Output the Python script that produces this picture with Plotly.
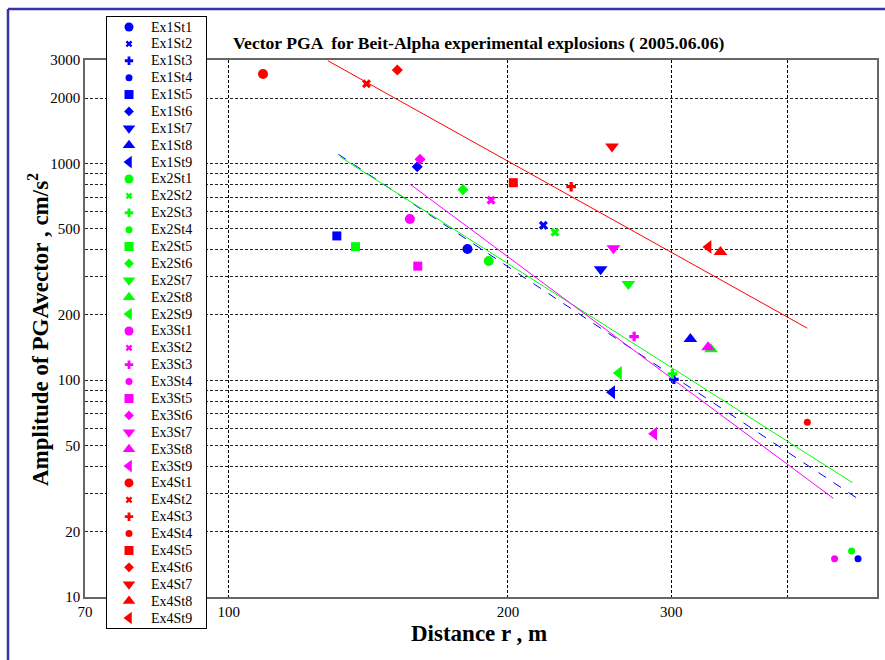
import math
import plotly.graph_objects as go

# ---------------- data ----------------
experiments = ["Ex1", "Ex2", "Ex3", "Ex4"]
stations = ["St1", "St2", "St3", "St4", "St5", "St6", "St7", "St8", "St9"]
exp_colors = ["#0000ff", "#00ff00", "#ff00ff", "#ff0000"]

ex1_dist = [180.9, 218.4, 302.0, 477.0, 130.8, 159.7, 251.8, 314.6, 259.0]
ex1_pga = [403, 518, 101, 15.0, 463, 966, 325, 155, 88]
ex2_dist = [190.7, 224.8, 300.9, 469.4, 137.0, 178.9, 269.7, 331.2, 263.4]
ex2_pga = [355, 481, 107, 16.3, 413, 757, 278, 139, 108]
ex3_dist = [156.8, 191.8, 273.6, 450.0, 159.9, 160.8, 259.9, 328.7, 287.5]
ex3_pga = [554, 676, 159, 15.0, 336, 1045, 406, 142, 56.7]
ex4_dist = [108.9, 140.8, 234.0, 420.6, 202.7, 152.0, 259.0, 339.0, 329.0]
ex4_pga = [2586, 2333, 781, 64, 815, 2697, 1197, 390, 412]

# regression (fit) lines: end points
fit1_dist = [131.3, 477.5]
fit1_pga = [1102, 28.3]
fit2_dist = [131.9, 470.4]
fit2_pga = [1071, 33.7]
fit3_dist = [156.9, 448.7]
fit3_pga = [801.7, 28.5]
fit4_dist = [127.9, 420.6]
fit4_pga = [2978, 173.8]

x_tickvals = [70, 100, 200, 300, 400, 500]
x_ticktext = ["70", "100", "200", "300", "", "500"]
y_tickvals = [10, 20, 30, 40, 50, 60, 70, 80, 90, 100, 200, 300, 400, 500,
              600, 700, 800, 900, 1000, 2000, 3000]
y_ticktext = ["10", "20", "", "", "50", "", "", "", "", "100", "200", "", "",
              "500", "", "", "", "", "1000", "2000", "3000"]

# ---------------- styles ----------------
symbols = ["circle", "x", "cross", "circle", "square", "diamond",
           "triangle-down", "triangle-up", "triangle-left"]
plot_sizes = [10, 8, 8, 7, 9, 8.5, 12, 12, 12]
legend_sizes = [9, 6, 7, 7, 9, 7.5, 11, 11, 11]
fit_dash = ["dash", "solid", "solid", "solid"]

W, H = 885, 660
SERIF = "Liberation Serif"

def px_x(p):
    return p / W

def px_y(p):
    return 1 - p / H

all_dist = [ex1_dist, ex2_dist, ex3_dist, ex4_dist]
all_pga = [ex1_pga, ex2_pga, ex3_pga, ex4_pga]
all_fit_d = [fit1_dist, fit2_dist, fit3_dist, fit4_dist]
all_fit_p = [fit1_pga, fit2_pga, fit3_pga, fit4_pga]

fig = go.Figure()

# fit lines
for e in range(4):
    fig.add_trace(go.Scatter(
        x=all_fit_d[e], y=all_fit_p[e], mode="lines",
        line=dict(color=exp_colors[e], width=1, dash=fit_dash[e]),
        showlegend=False, hoverinfo="skip", xaxis="x", yaxis="y"))

# data points
for e in range(4):
    fig.add_trace(go.Scatter(
        x=all_dist[e], y=all_pga[e], mode="markers",
        marker=dict(color=exp_colors[e], symbol=symbols, size=plot_sizes,
                    opacity=1, line=dict(width=0)),
        text=[experiments[e] + s for s in stations],
        showlegend=False, xaxis="x", yaxis="y"))

# custom legend in its own small subplot (x2/y2)
LEG_TOP_PAD = 10.0
LEG_STEP = 16.886
annotations = []
for e in range(4):
    ys = [LEG_TOP_PAD + (e * 9 + j) * LEG_STEP for j in range(9)]
    fig.add_trace(go.Scatter(
        x=[22] * 9, y=ys, mode="markers",
        marker=dict(color=exp_colors[e], symbol=symbols, size=legend_sizes,
                    opacity=1, line=dict(width=0)),
        showlegend=False, hoverinfo="skip", xaxis="x2", yaxis="y2",
        cliponaxis=False))
    for j in range(9):
        annotations.append(dict(
            x=42, y=ys[j], xref="x2", yref="y2", xanchor="left",
            yanchor="middle", text=experiments[e] + stations[j],
            showarrow=False, font=dict(family=SERIF, size=14, color="black")))

# titles
annotations.append(dict(
    x=px_x(478), y=px_y(43), xref="paper", yref="paper",
    text="<b>Vector PGA  for Beit-Alpha experimental explosions ( 2005.06.06)</b>",
    showarrow=False, xanchor="center", yanchor="middle",
    font=dict(family=SERIF, size=17.6, color="black")))
annotations.append(dict(
    x=px_x(479), y=px_y(633), xref="paper", yref="paper",
    text="<b>Distance r , m</b>", showarrow=False,
    xanchor="center", yanchor="middle",
    font=dict(family=SERIF, size=23, color="black")))
annotations.append(dict(
    x=px_x(38), y=px_y(330), xref="paper", yref="paper",
    text="<b>Amplitude of PGAvector , cm/s<sup>2</sup></b>", showarrow=False,
    textangle=-90, xanchor="center", yanchor="middle",
    font=dict(family=SERIF, size=23, color="black")))

shapes = [
    dict(type="line", xref="paper", yref="paper",
         x0=px_x(8), x1=1.0, y0=px_y(9), y1=px_y(9),
         line=dict(color="#3535a5", width=2.5)),
    dict(type="line", xref="paper", yref="paper",
         x0=px_x(8), x1=px_x(8), y0=px_y(9), y1=0,
         line=dict(color="#3535a5", width=2.5)),
]

frame_col = "#666666"
fig.update_layout(
    width=W, height=H,
    margin=dict(l=0, r=0, t=0, b=0, autoexpand=False),
    paper_bgcolor="white", plot_bgcolor="white",
    showlegend=False,
    xaxis=dict(
        type="log", range=[math.log10(70), math.log10(500)],
        domain=[px_x(85), px_x(877)], anchor="y",
        tickvals=x_tickvals, ticktext=x_ticktext,
        showgrid=True, gridcolor="black", gridwidth=1, griddash="3px,2px",
        showline=True, linecolor=frame_col, linewidth=1.5, mirror=True,
        ticks="", zeroline=False,
        tickfont=dict(family=SERIF, size=15, color="black")),
    yaxis=dict(
        type="log", range=[1, math.log10(3000)],
        domain=[1 - 597 / H, 1 - 60 / H], anchor="x",
        tickvals=y_tickvals, ticktext=y_ticktext,
        showgrid=True, gridcolor="#222222", gridwidth=1, griddash="3px,2px",
        showline=True, linecolor=frame_col, linewidth=1.5, mirror=True,
        ticks="", zeroline=False,
        tickfont=dict(family=SERIF, size=15, color="black")),
    xaxis2=dict(
        domain=[px_x(107), px_x(206)], range=[0, 99], anchor="y2",
        showgrid=False, zeroline=False, showticklabels=False, ticks="",
        showline=True, linecolor="black", linewidth=1, mirror=True,
        fixedrange=True),
    yaxis2=dict(
        domain=[1 - 628 / H, 1 - 17 / H], range=[611, 0], anchor="x2",
        showgrid=False, zeroline=False, showticklabels=False, ticks="",
        showline=True, linecolor="black", linewidth=1, mirror=True,
        fixedrange=True),
    annotations=annotations,
    shapes=shapes,
)

fig.write_html("out.html")
